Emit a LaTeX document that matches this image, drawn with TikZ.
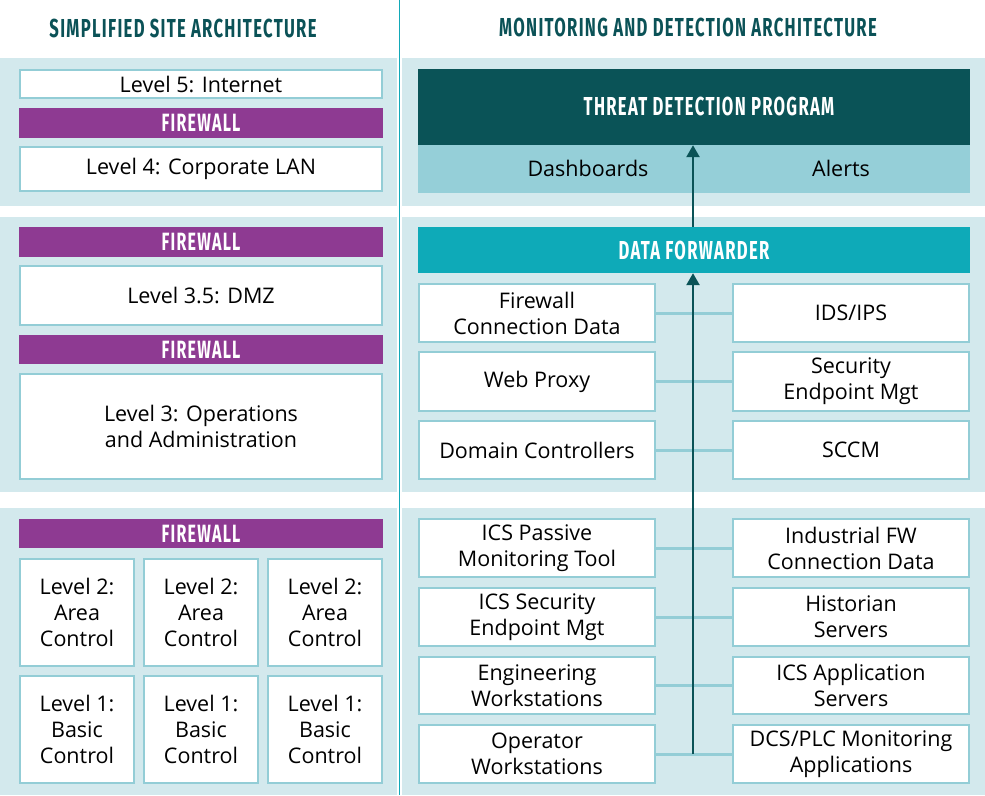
\documentclass[tikz,border=0pt]{standalone}
\usepackage{fontspec}
\setmainfont{Open Sans}
\newfontfamily\headfont[FakeStretch=0.64,LetterSpace=5]{Fira Sans}
\usetikzlibrary{arrows.meta}
\definecolor{hdr}{HTML}{0B5257}
\definecolor{panel}{HTML}{D3E9ED}
\definecolor{boxline}{HTML}{93CDD6}
\definecolor{fwpurple}{HTML}{8E3A92}
\definecolor{darkteal}{HTML}{0A5357}
\definecolor{band}{HTML}{95CFD8}
\definecolor{fwd}{HTML}{0EAAB8}
\definecolor{divider}{HTML}{12A9B8}
\newcommand\bx[7]{\node[#6, minimum width={#4-#2}, minimum height={#5-#3}] (#1) at ({(#2+#4)/2},{(#3+#5)/2}) {#7};}
\begin{document}
\begin{tikzpicture}[x=1pt,y=-1pt,
  box/.style={draw=boxline, line width=2.5pt, fill=white, inner sep=0pt, align=center, text=black, font=\fontsize{21.5}{26}\selectfont},
  fw/.style={fill=fwpurple, inner sep=0pt, text=white, font=\headfont\bfseries\fontsize{25}{25}\selectfont},
  darkbox/.style={fill=darkteal, inner sep=0pt},
  whitehead/.style={inner sep=0pt, text=white, font=\headfont\bfseries\fontsize{26}{26}\selectfont},
  fwdbox/.style={fill=fwd, inner sep=0pt, text=white, font=\headfont\bfseries\fontsize{26}{26}\selectfont},
  bandbox/.style={fill=band, inner sep=0pt},
  lbl/.style={inner sep=0pt, text=black, font=\fontsize{21.5}{26}\selectfont},
  hdrtext/.style={inner sep=0pt, text=hdr, font=\headfont\bfseries\fontsize{26}{26}\selectfont},
  conn/.style={draw=boxline, line width=3pt},
  arr/.style={draw=darkteal, line width=2.5pt, -{Triangle[width=13pt,length=12pt]}}]
\useasboundingbox (0,0) rectangle (985,795);
\fill[white] (0,0) rectangle (985,795);
% panels
\fill[panel] (0,58) rectangle (397,206);
\fill[panel] (402,58) rectangle (985,206);
\fill[panel] (0,217) rectangle (397,492);
\fill[panel] (402,217) rectangle (985,492);
\fill[panel] (0,508) rectangle (397,795);
\fill[panel] (402,508) rectangle (985,795);
\draw[divider, line width=1.8pt] (399.5,0) -- (399.5,795);
% headers
\node[hdrtext] (h1) at (183,28) {SIMPLIFIED SITE ARCHITECTURE};
\node[hdrtext] (h2) at (688,27) {MONITORING AND DETECTION ARCHITECTURE};
% left column
\bx{l5}{20}{70}{382}{98}{box}{Level 5: Internet}
\bx{fw1}{19}{108}{383}{138}{fw}{FIREWALL}
\bx{l4}{20}{147}{382}{191}{box}{Level 4: Corporate LAN}
\bx{fw2}{19}{227}{383}{257}{fw}{FIREWALL}
\bx{l35}{20}{266}{382}{325}{box}{Level 3.5: DMZ}
\bx{fw3}{19}{335}{383}{364}{fw}{FIREWALL}
\bx{l3}{20}{374}{382}{479}{box}{Level 3: Operations\\and Administration}
\bx{fw4}{19}{519}{383}{548}{fw}{FIREWALL}
\bx{a1}{20}{559}{134}{666}{box}{Level 2:\\Area\\Control}
\bx{a2}{144}{559}{258}{666}{box}{Level 2:\\Area\\Control}
\bx{a3}{268}{559}{382}{666}{box}{Level 2:\\Area\\Control}
\bx{b1}{20}{676}{134}{783}{box}{Level 1:\\Basic\\Control}
\bx{b2}{144}{676}{258}{783}{box}{Level 1:\\Basic\\Control}
\bx{b3}{268}{676}{382}{783}{box}{Level 1:\\Basic\\Control}
% right column top
\bx{tdp}{418}{69}{970}{145}{darkbox}{}
\node[whitehead] (tdpt) at (709,106) {THREAT DETECTION PROGRAM};
\bx{bnd}{418}{145}{970}{193}{bandbox}{}
\node[lbl] (dash) at (588,168) {Dashboards};
\node[lbl] (alerts) at (841,168) {Alerts};
\bx{df}{418}{227}{970}{273}{fwdbox}{DATA FORWARDER}
% section 2 sources
\bx{fcd}{419}{284}{655}{342}{box}{Firewall\\Connection Data}
\bx{ids}{733}{284}{969}{342}{box}{IDS/IPS}
\bx{wp}{419}{352}{655}{411}{box}{Web Proxy}
\bx{sem}{733}{352}{969}{411}{box}{Security\\Endpoint Mgt}
\bx{dc}{419}{421}{655}{479}{box}{Domain Controllers}
\bx{sccm}{733}{421}{969}{479}{box}{SCCM}
% section 3 sources
\bx{icsp}{419}{519}{655}{577}{box}{ICS Passive\\Monitoring Tool}
\bx{ifw}{733}{519}{969}{577}{box}{Industrial FW\\Connection Data}
\bx{icss}{419}{588}{655}{646}{box}{ICS Security\\Endpoint Mgt}
\bx{hist}{733}{588}{969}{646}{box}{Historian\\Servers}
\bx{eng}{419}{657}{655}{714}{box}{Engineering\\Workstations}
\bx{icsa}{733}{657}{969}{714}{box}{ICS Application\\Servers}
\bx{op}{419}{725}{655}{783}{box}{Operator\\Workstations}
\bx{dcs}{733}{725}{969}{783}{box}{DCS/PLC Monitoring\\Applications}
% connectors
\foreach \a/\b in {fcd/ids, wp/sem, dc/sccm, icsp/ifw, icss/hist, eng/icsa, op/dcs}
  \draw[conn] (\a.east) -- (\b.west);
\coordinate (abot) at (693,754);
\draw[arr] (abot) -- (abot |- df.south);
\draw[arr] (abot |- df.north) -- (abot |- tdp.south);
\end{tikzpicture}
\end{document}
